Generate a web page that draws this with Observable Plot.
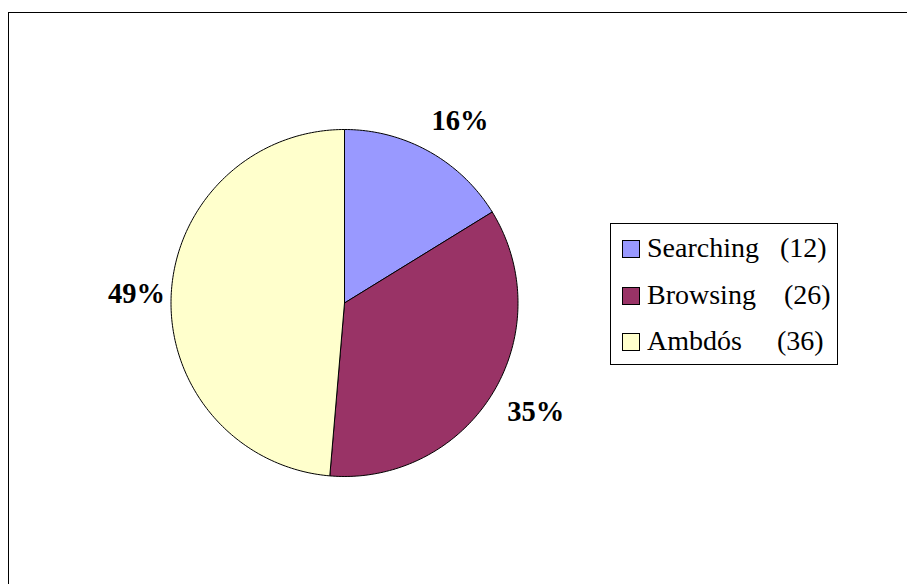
<!DOCTYPE html>
<html>
<head>
<meta charset="utf-8">
<script src="https://cdn.jsdelivr.net/npm/d3@7"></script>
<script src="https://cdn.jsdelivr.net/npm/@observablehq/plot@0.6"></script>
<style>
  html, body { margin: 0; padding: 0; background: #fff; }
  #wrap { position: relative; width: 907px; height: 584px; overflow: hidden; background: #fff; }
  #frame { position: absolute; left: 8px; top: 12px; width: 1000px; height: 1000px; border-left: 1px solid #000; border-top: 1px solid #000; }
  #chart { position: absolute; left: 0; top: 0; }
  #legend { position: absolute; left: 610px; top: 223px; width: 228px; height: 142px; box-sizing: border-box; border: 1px solid #000; background: #fff;
            font-family: "Liberation Serif", "Times New Roman", serif; font-size: 28px; color: #000; }
  .row { position: absolute; left: 0; white-space: pre; }
  .sw { position: absolute; left: 11px; width: 18px; height: 18px; box-sizing: border-box; border: 1px solid #000; }
  .lbl { position: absolute; left: 36px; line-height: 1; }
</style>
</head>
<body>
<div id="wrap">
  <div id="frame"></div>
  <div id="chart"></div>
  <div id="legend"></div>
</div>
<script>
// ---- data ----
const categories = ["Searching", "Browsing", "Ambdós"];
const counts = [12, 26, 36];
const percentLabels = ["16%", "35%", "49%"];
const colors = ["#9999FF", "#993366", "#FFFFCC"];
const legendGaps = [3, 4, 5]; // number of spaces between name and count in legend

// ---- layout ----
const W = 907, H = 584;
const cx = 344, cy = 302.5, R = 173.5;

const data = categories.map((c, i) => ({name: c, value: counts[i], label: percentLabels[i]}));
const arcs = d3.pie().sort(null).value(d => d.value).startAngle(0).endAngle(2 * Math.PI)(data);

// slice outlines (unit-radius coordinates), angles clockwise from 12 o'clock
const pts = [];
arcs.forEach(a => {
  const name = a.data.name;
  pts.push({name, x: 0, y: 0});
  const n = Math.max(2, Math.ceil((a.endAngle - a.startAngle) / (Math.PI / 180)));
  for (let k = 0; k <= n; k++) {
    const t = a.startAngle + (a.endAngle - a.startAngle) * k / n;
    pts.push({name, x: Math.sin(t), y: Math.cos(t)});
  }
  pts.push({name, x: 0, y: 0});
});

const labelPts = arcs.map(a => {
  const m = (a.startAngle + a.endAngle) / 2;
  const s = Math.sin(m);
  return {label: a.data.label, x: 1.2 * s + (s > 0 ? 14 / R : 0), y: 1.2 * Math.cos(m)};
});

const chart = Plot.plot({
  width: W,
  height: H,
  margin: 0,
  x: {domain: [-cx / R, (W - cx) / R], range: [0, W], axis: null},
  y: {domain: [-(H - cy) / R, cy / R], range: [H, 0], axis: null},
  color: {domain: categories, range: colors},
  style: {background: "transparent", overflow: "visible"},
  marks: [
    Plot.line(pts, {x: "x", y: "y", z: "name", fill: "name", stroke: "#000", strokeWidth: 1, curve: "linear", strokeLinejoin: "round"}),
    Plot.text(labelPts, {x: "x", y: "y", text: "label", fontSize: 28.5, fontWeight: "bold",
      fontFamily: "'Liberation Serif', 'Times New Roman', serif", fill: "#000"})
  ]
});
document.getElementById("chart").appendChild(chart);

// ---- legend ----
const legend = document.getElementById("legend");
categories.forEach((c, i) => {
  const top = 16 + 46.5 * i;
  const sw = document.createElement("div");
  sw.className = "sw";
  sw.style.top = top + "px";
  sw.style.background = colors[i];
  legend.appendChild(sw);
  const lbl = document.createElement("div");
  lbl.className = "lbl row";
  lbl.style.left = "36px";
  lbl.style.top = (top - 6) + "px";
  lbl.textContent = c + " ".repeat(legendGaps[i]) + "(" + counts[i] + ")";
  legend.appendChild(lbl);
});
</script>
</body>
</html>
